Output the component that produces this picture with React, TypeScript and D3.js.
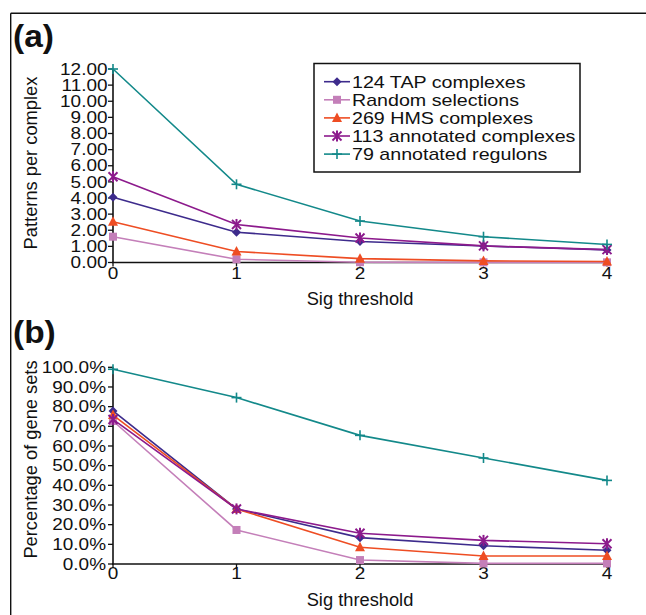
import React from "react";
import * as d3 from "d3";

const thresholds = [0, 1, 2, 3, 4];
const seriesNames = [
  "124 TAP complexes",
  "Random selections",
  "269 HMS complexes",
  "113 annotated complexes",
  "79 annotated regulons",
];
const seriesColors = ["#3d2b8c", "#c47fb9", "#ee4d23", "#8c1a8c", "#13898a"];
const seriesMarkers = ["diamond", "square", "triangle", "asterisk", "plus"];

// Panel (a): patterns per complex
const tapA = [4.05, 1.88, 1.3, 1.02, 0.78];
const randA = [1.6, 0.2, 0.02, 0.01, 0.01];
const hmsA = [2.53, 0.68, 0.24, 0.1, 0.06];
const annA = [5.32, 2.36, 1.52, 1.03, 0.8];
const regA = [12.0, 4.85, 2.57, 1.6, 1.12];

// Panel (b): percentage of gene sets
const tapB = [0.778, 0.28, 0.134, 0.093, 0.07];
const randB = [0.727, 0.173, 0.02, 0.003, 0.003];
const hmsB = [0.757, 0.28, 0.085, 0.041, 0.041];
const annB = [0.735, 0.28, 0.156, 0.12, 0.103];
const regB = [0.99, 0.846, 0.654, 0.539, 0.425];

const ticksA = d3.range(0, 13, 1);
const ticksB = d3.range(0, 1.0001, 0.1);

const FONT = "'Liberation Sans', Arial, Helvetica, sans-serif";
const SX = 1.2;
const TICK_FS = 15.8;

function SText({ x, y, anchor = "start", size = TICK_FS, sx = SX, weight = "normal", children, dy = "0" }: any) {
  return (
    <text
      transform={`translate(${x},${y}) scale(${sx},1)`}
      textAnchor={anchor}
      fontSize={size}
      fontWeight={weight}
      fontFamily={FONT}
      dy={dy}
      fill="#111"
    >
      {children}
    </text>
  );
}

function Marker({ type, x, y, color }: any) {
  if (type === "diamond") {
    const r = 4.5;
    return <polygon points={`${x},${y - r} ${x + r},${y} ${x},${y + r} ${x - r},${y}`} fill={color} />;
  }
  if (type === "square") {
    const r = 4;
    return <rect x={x - r} y={y - r} width={2 * r} height={2 * r} fill={color} />;
  }
  if (type === "triangle") {
    const r = 5;
    return <polygon points={`${x},${y - r - 0.5} ${x + r},${y + r - 1} ${x - r},${y + r - 1}`} fill={color} />;
  }
  if (type === "asterisk") {
    const r = 4.5;
    return (
      <g stroke={color} strokeWidth={2}>
        <line x1={x - r} y1={y - r} x2={x + r} y2={y + r} />
        <line x1={x - r} y1={y + r} x2={x + r} y2={y - r} />
        <line x1={x} y1={y - r - 1} x2={x} y2={y + r + 1} />
      </g>
    );
  }
  const r = 5;
  return (
    <g stroke={color} strokeWidth={1.6}>
      <line x1={x - r} y1={y} x2={x + r} y2={y} />
      <line x1={x} y1={y - r} x2={x} y2={y + r} />
    </g>
  );
}

function Panel({ data, yScale, yTicks, fmt, title, label, labelY, tickLabelY, xTitleY, yTitleX, yTitleY, labelEnd }: any) {
  const xScale = d3.scaleLinear().domain([0, 4]).range([113, 607]);
  const line = d3
    .line<number>()
    .x((_, i) => xScale(thresholds[i]))
    .y((d) => yScale(d));
  const y0 = yScale(0);
  const yTop = yScale(yTicks[yTicks.length - 1]);
  return (
    <g>
      <SText x={13} y={labelY} size={31} sx={1.08} weight="bold">
        {label}
      </SText>
      {/* y axis */}
      <line x1={113} x2={113} y1={yTop} y2={y0 + 0.5} stroke="#111" strokeWidth={1.6} />
      {yTicks.map((t: number, i: number) => (
        <g key={i}>
          <line x1={108} x2={113} y1={yScale(t)} y2={yScale(t)} stroke="#111" strokeWidth={1.3} />
          <SText x={labelEnd} y={yScale(t)} anchor="end" dy="0.36em">
            {fmt(t)}
          </SText>
        </g>
      ))}
      {/* x axis */}
      <line x1={112} x2={609} y1={y0} y2={y0} stroke="#111" strokeWidth={1.6} />
      {thresholds.map((t) => (
        <g key={t}>
          <line x1={xScale(t)} x2={xScale(t)} y1={y0} y2={y0 + 4} stroke="#111" strokeWidth={1.3} />
          <SText x={xScale(t)} y={tickLabelY} anchor="middle">
            {t}
          </SText>
        </g>
      ))}
      <text x={360} y={xTitleY} textAnchor="middle" fontSize={18.3} fontFamily={FONT} fill="#111">
        Sig threshold
      </text>
      <text
        transform={`translate(${yTitleX},${yTitleY}) rotate(-90)`}
        textAnchor="middle"
        fontSize={18.3}
        fontFamily={FONT}
        fill="#111"
      >
        {title}
      </text>
      {/* series */}
      {data.map((vals: number[], si: number) => (
        <g key={si}>
          <path d={line(vals) || ""} fill="none" stroke={seriesColors[si]} strokeWidth={1.6} />
          {vals.map((v, i) => (
            <Marker key={i} type={seriesMarkers[si]} x={xScale(thresholds[i])} y={yScale(v)} color={seriesColors[si]} />
          ))}
        </g>
      ))}
    </g>
  );
}

export default function App() {
  const yA = d3.scaleLinear().domain([0, 12]).range([262.5, 69]);
  const yB = d3.scaleLinear().domain([0, 1]).range([564, 367.3]);
  const legendBase = [87.7, 105.8, 123.9, 142, 160.1];
  return (
    <svg
      width={646}
      height={615}
      style={{ position: "absolute", left: 0, top: 0, background: "#fff" }}
    >
      <rect x={0} y={0} width={646} height={615} fill="#fff" />
      {/* frame */}
      <line x1={10.7} x2={646} y1={13.3} y2={13.3} stroke="#111" strokeWidth={1.4} />
      <line x1={10.7} x2={10.7} y1={13.3} y2={615} stroke="#111" strokeWidth={1.4} />

      <Panel
        data={[tapA, randA, hmsA, annA, regA]}
        yScale={yA}
        yTicks={ticksA}
        fmt={(t: number) => t.toFixed(2)}
        title="Patterns per complex"
        label="(a)"
        labelY={46.5}
        tickLabelY={278.5}
        xTitleY={304.5}
        yTitleX={37}
        yTitleY={163}
        labelEnd={107.5}
      />
      <Panel
        data={[tapB, randB, hmsB, annB, regB]}
        yScale={yB}
        yTicks={ticksB}
        fmt={(t: number) => (t * 100).toFixed(1) + "%"}
        title="Percentage of gene sets"
        label="(b)"
        labelY={342.5}
        tickLabelY={579}
        xTitleY={606}
        yTitleX={37}
        yTitleY={459.5}
        labelEnd={106}
      />

      {/* legend */}
      <rect x={314} y={63.5} width={266} height={108.5} fill="#fff" stroke="#111" strokeWidth={1.5} />
      {seriesNames.map((name, i) => {
        const ly = legendBase[i] - 6;
        return (
          <g key={i}>
            <line x1={324} x2={350} y1={ly} y2={ly} stroke={seriesColors[i]} strokeWidth={1.6} />
            <Marker type={seriesMarkers[i]} x={337} y={ly} color={seriesColors[i]} />
            <SText x={352} y={legendBase[i]} size={16.8} sx={1.17}>
              {name}
            </SText>
          </g>
        );
      })}
    </svg>
  );
}
